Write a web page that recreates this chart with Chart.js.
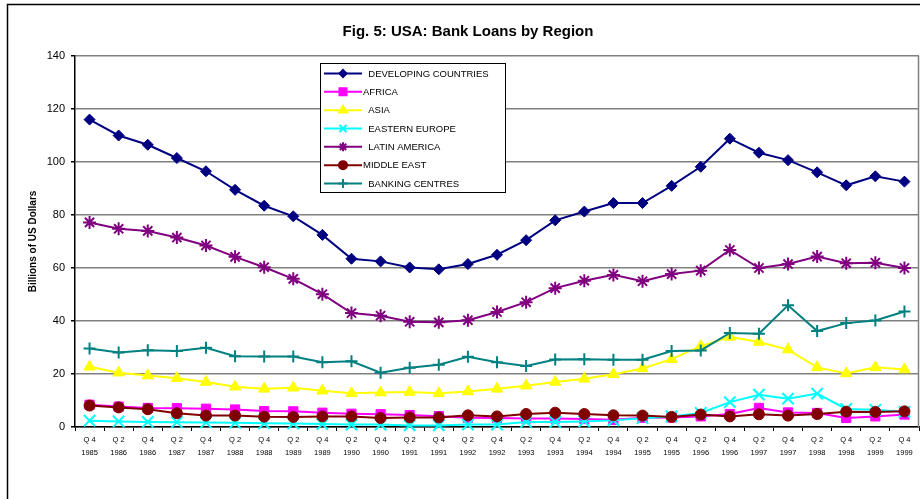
<!DOCTYPE html>
<html>
<head>
<meta charset="utf-8">
<title>USA: Bank Loans by Region</title>
<script src="https://cdn.jsdelivr.net/npm/chart.js@4.4.1/dist/chart.umd.min.js"></script>
<style>
  html, body { margin: 0; padding: 0; background: #fff; }
  #wrap { position: relative; width: 920px; height: 499px; }
</style>
</head>
<body>
<div id="wrap"><canvas id="loansChart"></canvas></div>
<script>
// Half-year periods, Q4 1985 .. Q4 1999
const quarters = ['Q 4', 'Q 2', 'Q 4', 'Q 2', 'Q 4', 'Q 2', 'Q 4', 'Q 2', 'Q 4', 'Q 2',
  'Q 4', 'Q 2', 'Q 4', 'Q 2', 'Q 4', 'Q 2', 'Q 4', 'Q 2', 'Q 4', 'Q 2',
  'Q 4', 'Q 2', 'Q 4', 'Q 2', 'Q 4', 'Q 2', 'Q 4', 'Q 2', 'Q 4'];
const years = ['1985', '1986', '1986', '1987', '1987', '1988', '1988', '1989', '1989', '1990',
  '1990', '1991', '1991', '1992', '1992', '1993', '1993', '1994', '1994', '1995',
  '1995', '1996', '1996', '1997', '1997', '1998', '1998', '1999', '1999'];

// Loans outstanding, billions of US dollars
const developing = [116, 110, 106.5, 101.5, 96.5, 89.5, 83.5, 79.5, 72.5, 63.5,
  62.5, 60.2, 59.5, 61.5, 65, 70.5, 78, 81.3, 84.5, 84.5,
  91, 98.2, 108.8, 103.5, 100.7, 96.1, 91.2, 94.6, 92.6];
const africa = [8.4, 7.7, 7.2, 7.1, 6.9, 6.6, 6.0, 5.9, 5.4, 5.0,
  4.8, 4.5, 4.1, 3.5, 3.4, 3.2, 3.2, 3.0, 2.7, 3.5,
  3.6, 4.0, 4.9, 7.2, 5.5, 5.3, 3.4, 4.0, 4.7];
const asia = [22.7, 20.5, 19.4, 18.4, 17, 15.2, 14.4, 14.8, 13.7, 12.7,
  13, 13.2, 12.7, 13.4, 14.4, 15.6, 17, 18.2, 19.9, 22.1,
  25.6, 30.5, 34, 32.1, 29.2, 22.5, 20.2, 22.5, 21.7];
const easternEurope = [2.4, 2.1, 1.9, 1.8, 1.7, 1.6, 1.4, 1.3, 1.1, 0.9,
  0.9, 0.6, 0.6, 0.9, 0.9, 1.9, 1.9, 2.1, 2.5, 3.3,
  4.0, 5.3, 9.4, 12.2, 10.7, 12.6, 6.8, 6.5, 5.7];
const latinAmerica = [77.2, 74.8, 74, 71.5, 68.5, 64.2, 60.3, 55.9, 50.1, 43,
  42, 39.7, 39.5, 40.3, 43.4, 47.1, 52.4, 55.2, 57.4, 55,
  57.7, 59, 66.8, 60, 61.5, 64.3, 61.8, 62, 60];
const middleEast = [8.1, 7.4, 6.7, 5.2, 4.3, 4.3, 3.9, 3.8, 4.0, 4.0,
  3.4, 3.6, 3.6, 4.4, 4.0, 4.9, 5.4, 4.9, 4.4, 4.3,
  3.8, 4.7, 4.0, 4.8, 4.3, 4.9, 5.8, 5.7, 5.9];
const bankingCentres = [29.6, 28.1, 29, 28.7, 29.9, 26.7, 26.6, 26.6, 24.4, 24.8,
  20.5, 22.4, 23.5, 26.5, 24.4, 23, 25.5, 25.6, 25.4, 25.4,
  28.7, 28.9, 35.5, 35.2, 45.9, 36.2, 39.2, 40.2, 43.6];

const regionNames = ['  DEVELOPING COUNTRIES', 'AFRICA', '  ASIA', '  EASTERN EUROPE',
  '  LATIN AMERICA', 'MIDDLE EAST', '  BANKING CENTRES'];
const yTicks = [0, 20, 40, 60, 80, 100, 120, 140];

const FONT = "'Liberation Sans', Arial, Helvetica, sans-serif";

const series = [
  { data: developing, color: '#000080', style: 'rectRot', r: 5.5, lr: 3.5 },
  { data: africa, color: '#FF00FF', style: 'rect', r: 6.5, lr: 5 },
  { data: asia, color: '#FFFF00', style: 'triangle', r: 6.5, lr: 4.5 },
  { data: easternEurope, color: '#00FFFF', style: 'crossRot', r: 8, lr: 5 },
  { data: latinAmerica, color: '#800080', style: 'star', r: 6.5, lr: 4.5 },
  { data: middleEast, color: '#800000', style: 'circle', r: 5.5, lr: 4 },
  { data: bankingCentres, color: '#008080', style: 'cross', r: 6, lr: 4.5 }
];

const datasets = series.map((s, i) => ({
  label: regionNames[i],
  data: s.data,
  borderColor: s.color,
  backgroundColor: s.color,
  borderWidth: 2,
  pointStyle: s.style,
  pointRadius: s.r,
  pointHoverRadius: s.r,
  pointBorderWidth: (s.style === 'cross' || s.style === 'crossRot' || s.style === 'star') ? 2 : 1,
  legendRadius: s.lr,
  tension: 0,
  clip: false,
  order: series.length - i
}));

// page frame, plot border, title and the boxed legend
const excelDecor = {
  id: 'excelDecor',
  beforeDraw(chart) {
    const ctx = chart.ctx;
    ctx.save();
    ctx.fillStyle = '#fff';
    ctx.fillRect(0, 0, chart.width, chart.height);
    ctx.strokeStyle = '#000';
    ctx.lineWidth = 1.5;
    ctx.strokeRect(7.5, 4.5, chart.width + 20, chart.height + 20);
    ctx.restore();
  },
  beforeDatasetsDraw(chart) {
    const { ctx, chartArea } = chart;
    ctx.save();
    ctx.strokeStyle = '#808080';
    ctx.lineWidth = 1.5;
    ctx.beginPath();
    ctx.moveTo(chartArea.right - 0.5, chartArea.top);
    ctx.lineTo(chartArea.right - 0.5, chartArea.bottom);
    ctx.stroke();
    ctx.restore();
  },
  afterDraw(chart) {
    const ctx = chart.ctx;
    ctx.save();
    // title
    ctx.fillStyle = '#000';
    ctx.font = 'bold 15px ' + FONT;
    ctx.textAlign = 'center';
    ctx.textBaseline = 'middle';
    ctx.fillText('Fig. 5: USA: Bank Loans by Region', 468, 32);

    // legend box
    const bx = 320.5, by = 63.5, bw = 185, bh = 129;
    ctx.fillStyle = '#fff';
    ctx.fillRect(bx, by, bw, bh);
    ctx.strokeStyle = '#000';
    ctx.lineWidth = 1;
    ctx.strokeRect(bx, by, bw, bh);

    ctx.font = '9.5px ' + FONT;
    ctx.textAlign = 'left';
    chart.data.datasets.forEach((ds, i) => {
      const y = 73.5 + i * 18.33;
      ctx.strokeStyle = ds.borderColor;
      ctx.fillStyle = ds.backgroundColor;
      ctx.lineWidth = 2;
      ctx.beginPath();
      ctx.moveTo(324, y);
      ctx.lineTo(362, y);
      ctx.stroke();
      Chart.helpers.drawPoint(ctx, {
        pointStyle: ds.pointStyle,
        radius: ds.legendRadius,
        rotation: 0,
        borderWidth: ds.pointBorderWidth
      }, 343, y);
      ctx.fillStyle = '#000';
      ctx.fillText(ds.label, 363, y + 0.5);
    });
    ctx.restore();
  }
};

new Chart(document.getElementById('loansChart'), {
  type: 'line',
  data: {
    labels: quarters.map((q, i) => [q, years[i]]),
    datasets: datasets
  },
  options: {
    responsive: true,
    maintainAspectRatio: false,
    animation: false,
    layout: { autoPadding: false, padding: { left: 0, top: 56, right: 1, bottom: 0 } },
    plugins: {
      legend: { display: false },
      title: { display: false },
      tooltip: { enabled: false }
    },
    scales: {
      x: {
        type: 'category',
        offset: true,
        grid: {
          offset: true,
          drawOnChartArea: false,
          tickLength: 4,
          tickColor: '#000'
        },
        border: { color: '#000', width: 1.5 },
        ticks: {
          autoSkip: false,
          maxRotation: 0,
          minRotation: 0,
          padding: 3,
          color: '#000',
          font: { family: FONT, size: 7.5, lineHeight: 1.65 }
        },
        afterFit(scale) {
          scale.height = 72;
          // keep the plot running right up to the frame edge
          scale.paddingLeft = 0;
          scale.paddingRight = 0;
        }
      },
      y: {
        min: 0,
        max: 140,
        afterBuildTicks(scale) { scale.ticks = yTicks.map(v => ({ value: v })); },
        grid: {
          color: '#808080',
          lineWidth: 1.5,
          tickLength: 4,
          tickColor: '#000'
        },
        border: { color: '#000', width: 1.5 },
        ticks: {
          padding: 6,
          color: '#000',
          font: { family: FONT, size: 11 }
        },
        title: {
          display: true,
          text: 'Billions of US Dollars',
          color: '#000',
          font: { family: FONT, size: 10, weight: 'bold' },
          padding: { top: 27, bottom: 0 }
        },
        afterFit(scale) {
          scale.width = 75;
          scale.paddingTop = 0;
          scale.paddingBottom = 0;
        }
      }
    }
  },
  plugins: [excelDecor]
});
</script>
</body>
</html>
